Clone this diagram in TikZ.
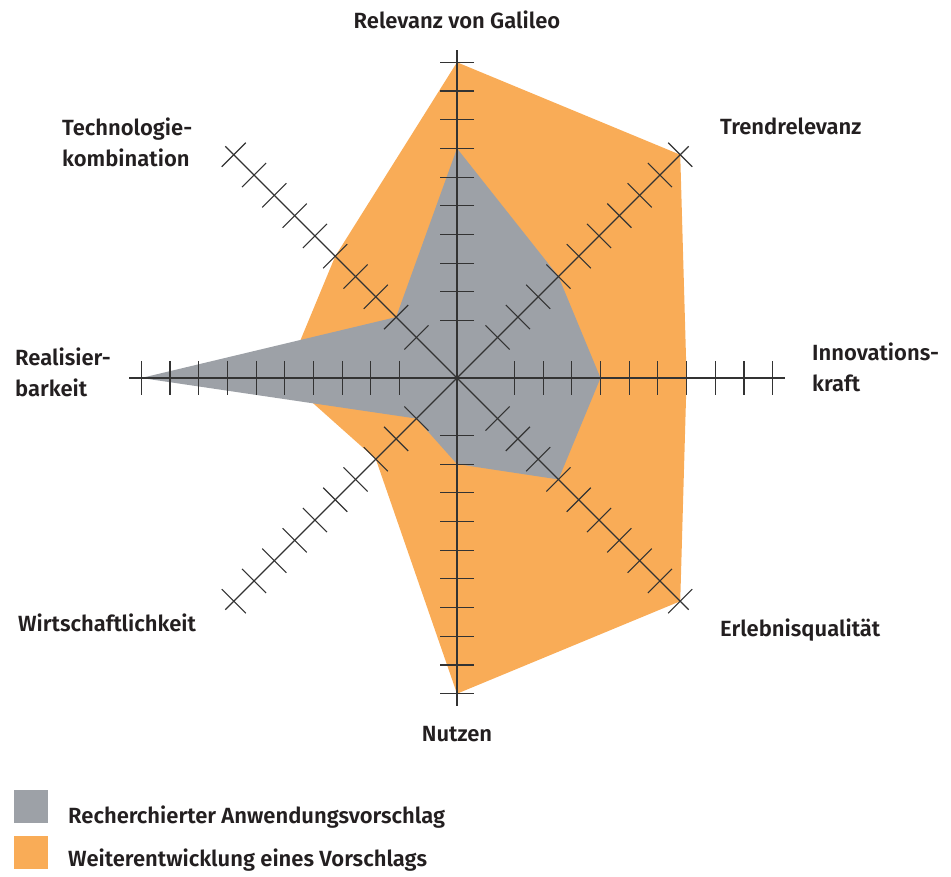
\documentclass[tikz,border=0pt]{standalone}
\usepackage{fontspec}
\setmainfont{Fira Sans}[BoldFont={Fira Sans SemiBold}]
\definecolor{orangefill}{HTML}{F9AC57}
\definecolor{grayfill}{HTML}{9DA1A7}
\definecolor{axiscol}{HTML}{333333}
\definecolor{textcol}{HTML}{231F20}
\begin{document}
\begin{tikzpicture}[x=1pt,y=1pt,
  lbl/.style={font=\bfseries\fontsize{22}{31}\selectfont, text=textcol, inner sep=0pt, align=left},
  axisline/.style={draw=axiscol, line width=1.1pt},
  legbox/.style={minimum width=34pt, minimum height=33pt, inner sep=0pt, anchor=south west}]
\useasboundingbox (0,0) rectangle (951,877);
\def\u{28.7}
\begin{scope}[shift={(457,499)}]
  \coordinate (C) at (0,0);
  \fill[orangefill] (90:{11*\u}) -- (45:{11*\u}) -- (0:{8*\u}) -- (-45:{11*\u})
    -- (-90:{11*\u}) -- (-135:{4*\u}) -- (180:{6*\u}) -- (135:{6*\u}) -- cycle;
  \fill[grayfill] (90:{8*\u}) -- (45:{5*\u}) -- (0:{5*\u}) -- (-45:{5*\u})
    -- (-90:{3*\u}) -- (-135:{2*\u}) -- (180:{11*\u}) -- (135:{3*\u}) -- cycle;
  \foreach \a in {0,45,...,315} {
    \begin{scope}[rotate=\a]
      \draw[axisline] (C) -- ({11*\u+12},0);
      \foreach \k in {2,...,11} \draw[axisline] ({\k*\u},-17) -- ({\k*\u},17);
    \end{scope}
  }
\end{scope}
\node[lbl, anchor=base] (top) at (457,848) {Relevanz von Galileo};
\node[lbl, anchor=base west] (ne) at (720,742) {Trendrelevanz};
\node[lbl, anchor=base west] (right) at (812,485) {Innovations-\\kraft};
\node[lbl, anchor=base west] (se) at (720,240) {Erlebnisqualität};
\node[lbl, anchor=base] (bottom) at (457,135) {Nutzen};
\node[lbl, anchor=base west] (sw) at (18,245) {Wirtschaftlichkeit};
\node[lbl, anchor=base west] (left) at (15,480) {Realisier-\\barkeit};
\node[lbl, anchor=base west] (nw) at (62,710) {Technologie-\\kombination};
\node[legbox, fill=grayfill] (lg1) at (14,54) {};
\node[legbox, fill=orangefill] (lg2) at (14,8) {};
\node[lbl, anchor=base west] (lt1) at (68,53) {Recherchierter Anwendungsvorschlag};
\node[lbl, anchor=base west] (lt2) at (68,10) {Weiterentwicklung eines Vorschlags};
\end{tikzpicture}
\end{document}
